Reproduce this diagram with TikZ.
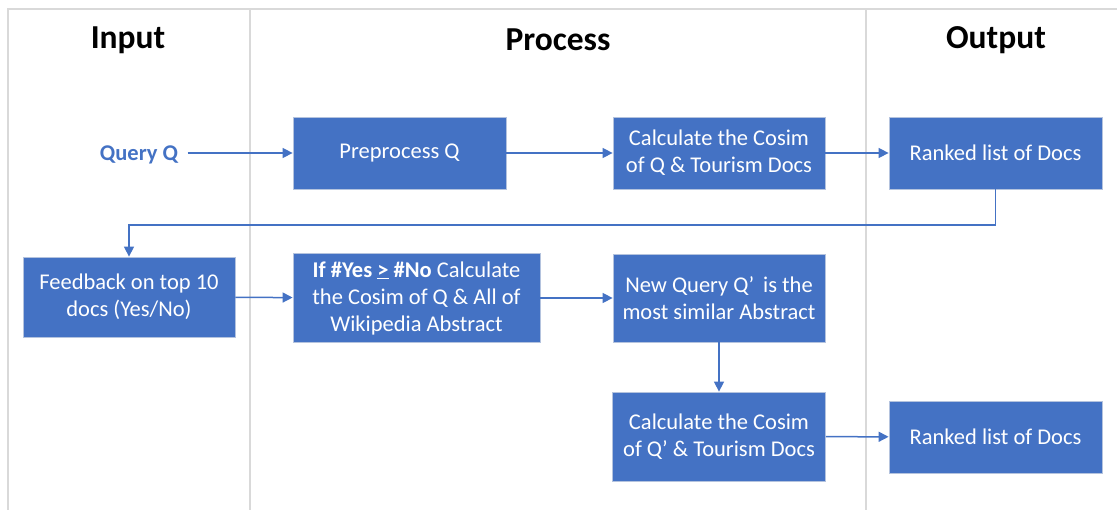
\documentclass[tikz,border=0pt]{standalone}
\usepackage{fontspec}
\setmainfont{Carlito}
\usetikzlibrary{arrows.meta}

\definecolor{boxblue}{HTML}{4472C4}
\definecolor{boxedge}{HTML}{B4C3DE}
\definecolor{laneline}{HTML}{D9D9D9}

\begin{document}
\begin{tikzpicture}[x=1pt,y=-1pt,
	>={Triangle[length=10pt,width=10pt]},
	stepbox/.style={draw=boxedge,line width=0.8pt,fill=boxblue,text=white,align=center,
		font=\fontsize{22.5}{27}\selectfont,inner sep=0pt},
	lane/.style={draw=laneline,line width=1.2pt},
	heading/.style={font=\fontsize{33.5}{36}\selectfont\bfseries},
	flow/.style={draw=boxblue,line width=1.5pt}]
	\useasboundingbox (0,0) rectangle (1117,510);
	% lanes
	\draw [lane] (8,510) -- (8,9) -- (1117,9);
	\draw [lane] (250,9) -- (250,510);
	\draw [lane] (866,9) -- (866,510);
	\node [heading] (hin) at (128,40) {Input};
	\node [heading] (hpro) at (558,40) {Process};
	\node [heading] (hout) at (996,40) {Output};
	% boxes
	\node [text=boxblue,font=\fontsize{22.5}{27}\selectfont\bfseries] (q) at (139,155) {Query Q};
	\node [stepbox,minimum width=213,minimum height=72] (pre) at (399.5,153) {Preprocess Q};
	\node [stepbox,minimum width=212,minimum height=72] (cos1) at (719,153) {Calculate the Cosim\\of Q \& Tourism Docs};
	\node [stepbox,minimum width=213,minimum height=72] (rank1) at (995.5,153) {Ranked list of Docs};
	\node [stepbox,minimum width=212,minimum height=80] (fb) at (129,297) {Feedback on top 10\\docs (Yes/No)};
	\node [stepbox,minimum width=247,minimum height=89] (ifyes) at (416.5,298) {\textbf{If \#Yes \underline{>} \#No} Calculate\\the Cosim of Q \& All of\\Wikipedia Abstract};
	\node [stepbox,minimum width=212,minimum height=88] (newq) at (719,298) {New Query Q’\, is the\\most similar Abstract};
	\node [stepbox,minimum width=213,minimum height=89] (cos2) at (719,436.5) {Calculate the Cosim\\of Q’ \& Tourism Docs};
	\node [stepbox,minimum width=213,minimum height=72] (rank2) at (995.5,437) {Ranked list of Docs};
	\coordinate (back) at (0,225);
	% arrows
	\draw [flow,->,shorten <=6pt] (q.east |- pre) -- (pre);
	\draw [flow,->] (pre) -- (cos1);
	\draw [flow,->] (cos1) -- (rank1);
	\draw [flow,->] (rank1.south) -- (rank1.south |- back) -| (fb.north);
	\draw [flow,->] (fb) -- (ifyes);
	\draw [flow,->] (ifyes) -- (newq);
	\draw [flow,->] (newq) -- (cos2);
	\draw [flow,->] (cos2) -- (rank2);
\end{tikzpicture}
\end{document}
